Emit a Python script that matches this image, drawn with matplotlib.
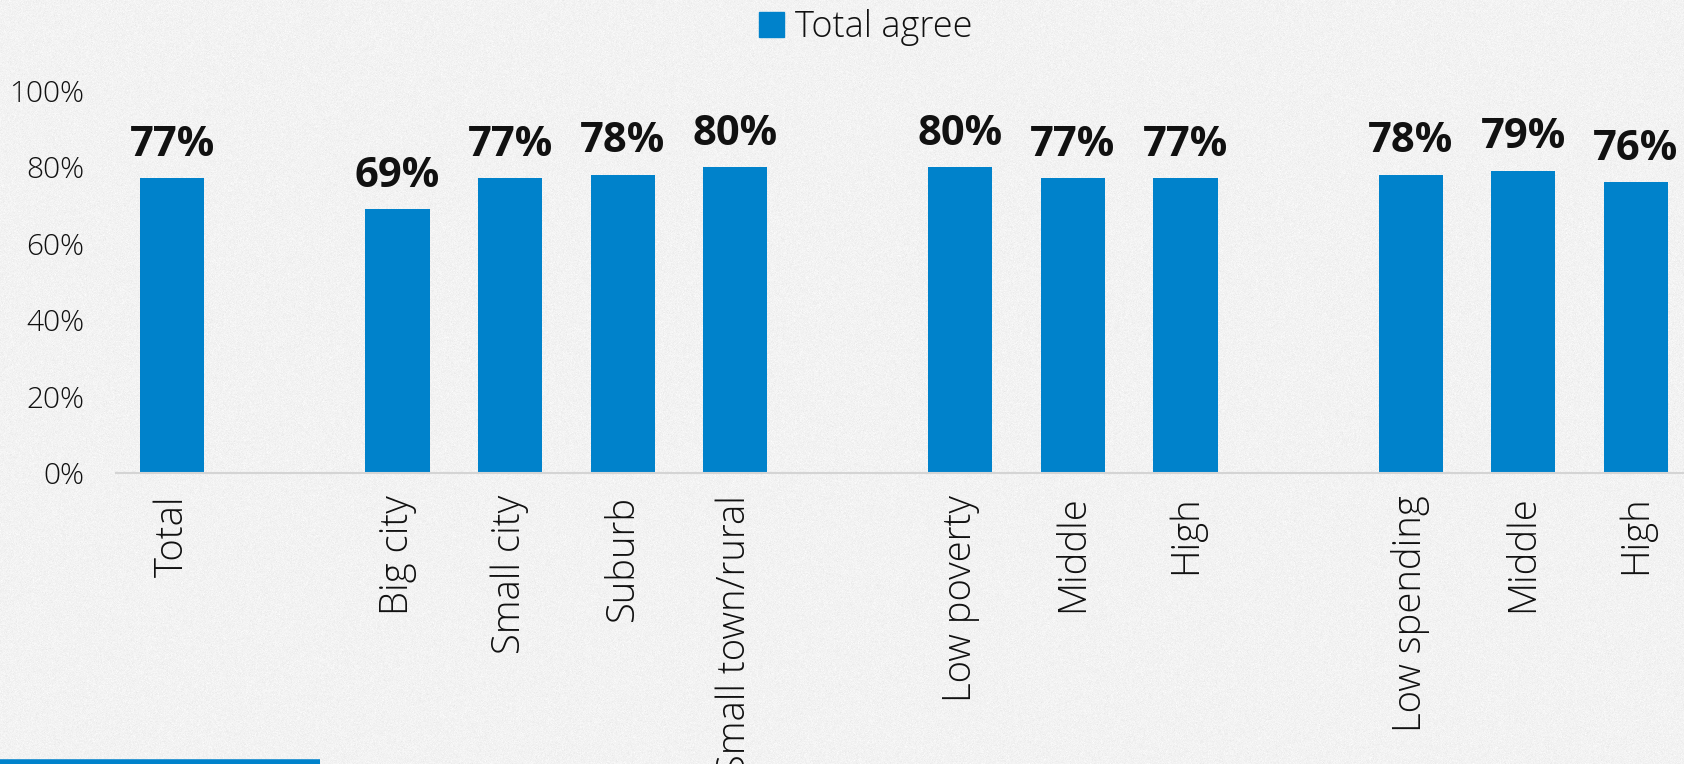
import numpy as np
import matplotlib.pyplot as plt
from matplotlib.lines import Line2D
from matplotlib.patches import Patch

# survey groups, blank slots separate the groups
categories = ['Total', '', 'Big city', 'Small city', 'Suburb', 'Small town/rural',
              '', 'Low poverty', 'Middle', 'High',
              '', 'Low spending', 'Middle', 'High']
total_agree = [77, None, 69, 77, 78, 80, None, 80, 77, 77, None, 78, 79, 76]
yticks = [0, 20, 40, 60, 80, 100]

blue = '#0082CB'
bg = '#f3f3f3'
txt = '#111111'
font = 'Open Sans'

fig = plt.figure(figsize=(16.84, 7.64), dpi=100, facecolor=bg)

# paper-like grain behind everything
rng = np.random.default_rng(3)
grain = 0.952 + rng.normal(0, 0.012, (764, 1684))
grain = np.clip(grain, 0, 1)
fig.figimage(np.dstack([grain] * 3), xo=0, yo=0, zorder=-10)

ax = fig.add_axes([0.0689, 0.381, 0.9359, 0.5005])
ax.patch.set_alpha(0)

x = np.arange(len(categories))
xs = [i for i, v in zip(x, total_agree) if v is not None]
vals = [v for v in total_agree if v is not None]
bars = ax.bar(xs, vals, width=0.57, color=blue, zorder=2)

for xi, v in zip(xs, vals):
    ax.annotate(f'{v}%', (xi, v), xytext=(0, 9), textcoords='offset points',
                ha='center', va='bottom', fontsize=30, fontweight='bold',
                color=txt, family=font)

ax.set_xlim(-0.5, len(categories) - 0.5)
ax.set_ylim(0, 100)
ax.set_yticks(yticks)
ax.set_yticklabels([f'{t}%' for t in yticks], fontsize=21.5, color=txt,
                   family=font, fontweight='light')
ax.set_xticks(x)
ax.set_xticklabels(categories, rotation=90, fontsize=27.5, color=txt,
                   family=font, fontweight='light', va='top', ha='center')
ax.tick_params(axis='both', length=0)
ax.tick_params(axis='x', pad=16)
ax.tick_params(axis='y', pad=23)

for s in ['top', 'right', 'left']:
    ax.spines[s].set_visible(False)
ax.spines['bottom'].set_color('#d4d4d4')
ax.spines['bottom'].set_linewidth(1.5)

leg = fig.legend(handles=[Patch(color=blue, label='Total agree')],
                 loc='upper center', bbox_to_anchor=(0.514, 1.031), frameon=False,
                 prop={'family': font, 'size': 26, 'weight': 'light'},
                 handlelength=0.7, handleheight=0.7, handletextpad=0.3)
for t in leg.get_texts():
    t.set_color(txt)

# blue rule along the bottom-left edge
fig.add_artist(Line2D([0, 0.19], [0.002, 0.002], transform=fig.transFigure,
                      color=blue, lw=4, solid_capstyle='butt'))

fig.savefig('out.png', dpi=100, facecolor=bg)
